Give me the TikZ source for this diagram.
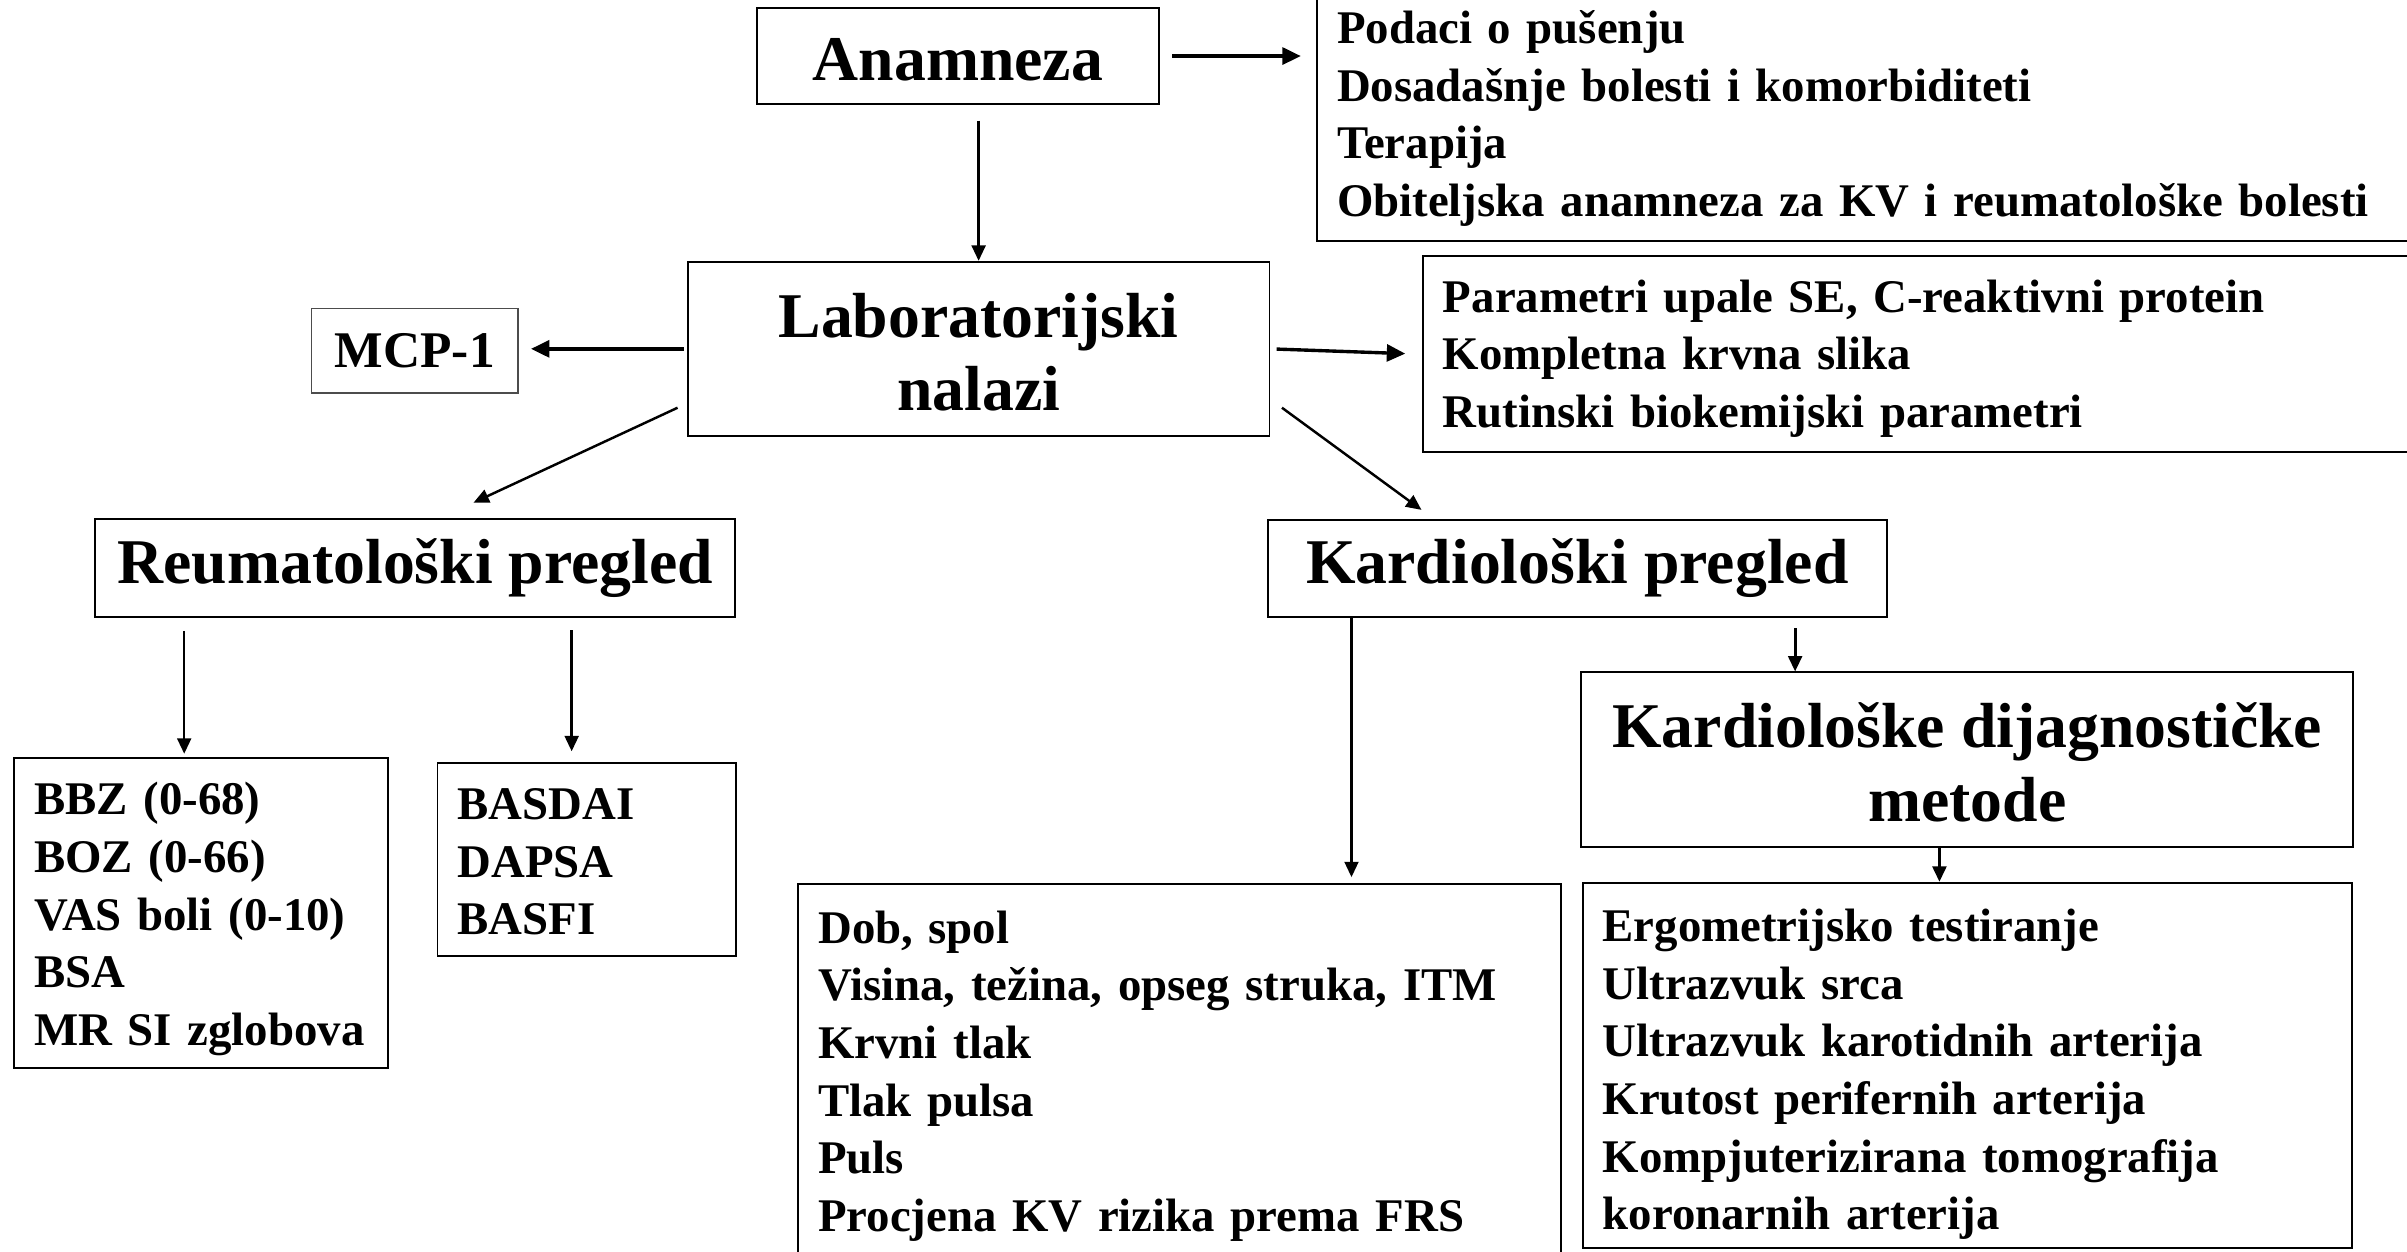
\documentclass[tikz,border=0pt]{standalone}
\usepackage{fontspec}
\setmainfont{Liberation Serif}
\usetikzlibrary{arrows.meta,calc}
\newcommand{\smtxt}{\fontsize{30.5}{37.5}\selectfont\bfseries}
\newcommand{\hdtxt}{\fontsize{41.5}{48}\selectfont\bfseries}
\newcommand{\mctxt}{\fontsize{33.5}{40}\selectfont\bfseries}
\newcommand{\fl}[1]{\rule{0pt}{#1pt}}
\tikzset{
  box/.style={draw, line width=1.2pt, rectangle, inner sep=0pt},
  listbox/.style={box, align=left, inner xsep=13pt, inner ysep=0pt, font=\smtxt},
  headbox/.style={box, align=center, font=\hdtxt},
  arr/.style={-{Triangle[length=10pt,width=9pt]}, line width=1.6pt},
  tharr/.style={-{Triangle[length=12pt,width=11pt]}, line width=2.2pt}
}
\begin{document}
\begin{tikzpicture}[x=1pt,y=-1pt]
\useasboundingbox (0,0) rectangle (1568,815);

% heading boxes
\node[headbox, minimum width=262pt, minimum height=63pt] (anam) at (624,36.5) {\fl{32}Anamneza};
\node[headbox, minimum width=379pt, minimum height=113.5pt] (lab) at (637.5,227.25) {\fl{33}Laboratorijski\\nalazi};
\node[box, line width=0.8pt, draw=black!70, font=\mctxt, minimum width=134.5pt, minimum height=55pt] (mcp) at (270.25,228.5) {MCP-1};
\node[headbox, minimum width=417pt, minimum height=63.7pt] (reum) at (270.5,369.85) {Reumatološki pregled};
\node[headbox, minimum width=403pt, minimum height=63pt] (kard) at (1027.5,370.25) {Kardiološki pregled};
\node[headbox, minimum width=503pt, minimum height=113.6pt] (kdm) at (1281.5,494.8) {\fl{33}Kardiološke dijagnostičke\\metode};

% list boxes
\node[listbox, text width=696pt, minimum height=165pt] (pod) at (1219,74.5) {\fl{27}Podaci o pušenju\\Dosadašnje bolesti i komorbiditeti\\Terapija\\Obiteljska anamneza za KV i reumatološke bolesti};
\node[listbox, text width=627pt, minimum height=127.5pt] (param) at (1253.5,230.75) {\fl{27}Parametri upale SE, C-reaktivni protein\\Kompletna krvna slika\\Rutinski biokemijski parametri};
\node[listbox, text width=217.7pt, minimum height=202.2pt] (bbz) at (131.15,594.7) {\fl{29}BBZ (0-68)\\BOZ (0-66)\\VAS boli (0-10)\\BSA\\MR SI zglobova};
\node[listbox, text width=168.6pt, minimum height=126pt] (bas) at (382.3,560) {\fl{23}BASDAI\\DAPSA\\BASFI};
\node[listbox, text width=471pt, minimum height=244pt] (dob) at (768.5,698) {\fl{27}Dob, spol\\Visina, težina, opseg struka, ITM\\Krvni tlak\\Tlak pulsa\\Puls\\Procjena KV rizika prema FRS};
\node[listbox, text width=475pt, minimum height=238pt] (ergo) at (1281.5,694) {\fl{33}Ergometrijsko testiranje\\Ultrazvuk srca\\Ultrazvuk karotidnih arterija\\Krutost perifernih arterija\\Kompjuterizirana tomografija\\koronarnih arterija};

% connector end points
\coordinate (kd) at ($(kard.south west)+(55,0)$);

% connectors
\draw[tharr, shorten <=8pt, shorten >=10pt] (anam.east) -- (anam.east -| pod.west);
\draw[arr] ($(lab.north |- anam.south)+(0,10)$) -- (lab.north);
\draw[tharr, shorten <=2pt, shorten >=8pt] (lab.west) -- (lab.west -| mcp.east);
\draw[tharr, shorten <=4pt, shorten >=11pt] (lab.east) -- (param.west);
\draw[arr] ($(lab.south west)+(-6,-19)$) -- ($(reum.north)+(38,-10)$);
\draw[arr] ($(lab.south east)+(7.5,-19)$) -- ($(kard.north)+(-101.5,-6)$);
\draw[arr, shorten >=4pt] (kd) -- (kd |- dob.north);
\draw[arr, line width=1.8pt] ($(kdm.north west)+(140,-28)$) -- ($(kdm.north west)+(140,0)$);
\draw[arr, line width=1.8pt] ($(ergo.north west)+(233,-22)$) -- ($(ergo.north west)+(233,0)$);
\draw[arr, shorten >=2pt] ($(bbz.north west)+(111.3,-82)$) -- ($(bbz.north west)+(111.3,0)$);
\draw[arr, shorten >=7pt] ($(bas.north west)+(88,-86)$) -- ($(bas.north west)+(88,0)$);
\end{tikzpicture}
\end{document}
